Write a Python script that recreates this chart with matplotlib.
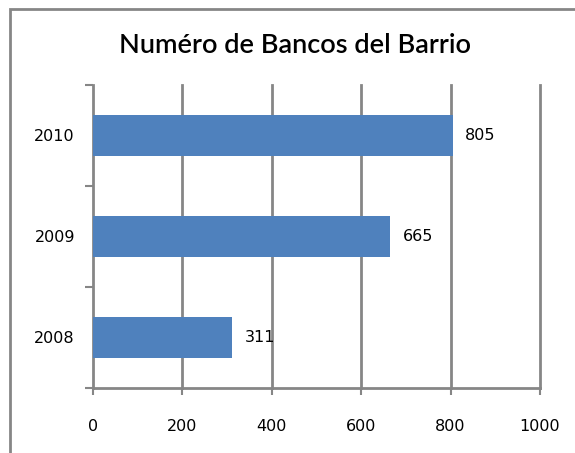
import matplotlib.pyplot as plt
from matplotlib.patches import Rectangle

years = ["2008", "2009", "2010"]
banks = [311, 665, 805]
x_ticks = [0, 200, 400, 600, 800, 1000]

grey = "#868686"
blue = "#4F81BD"

fig = plt.figure(figsize=(5.75, 4.53), dpi=100)
ax = fig.add_axes([0.1617, 0.1435, 0.7774, 0.6689])

pos = list(range(len(years)))
ax.barh(pos, banks, height=0.4, color=blue, zorder=3)
for y, v in zip(pos, banks):
    ax.annotate(str(v), (v, y), xytext=(9, 0), textcoords="offset points",
                va="center", ha="left", fontsize=11.5, family="DejaVu Sans")

ax.set_xlim(0, 1000)
ax.set_ylim(-0.5, 2.5)
ax.set_xticks(x_ticks)
ax.set_xticklabels([str(t) for t in x_ticks], fontsize=11.5)
ax.tick_params(axis="x", length=5, width=1.5, color=grey, pad=17)

ax.set_yticks([-0.5, 0.5, 1.5, 2.5])
ax.set_yticklabels([])
ax.set_yticks(pos, minor=True)
ax.set_yticklabels(years, minor=True, fontsize=11.5)
ax.tick_params(axis="y", which="major", length=6, width=1.5, color=grey)
ax.tick_params(axis="y", which="minor", length=0, pad=13)

for t in x_ticks[1:]:
    ax.axvline(t, color=grey, linewidth=2, zorder=0, clip_on=False)
for s in ["top", "right"]:
    ax.spines[s].set_visible(False)
for s in ["left", "bottom"]:
    ax.spines[s].set_color(grey)
    ax.spines[s].set_linewidth(2)

fig.text(0.513, 0.9, "Numéro de Bancos del Barrio", ha="center", va="center",
         fontsize=19.5, family="Lato", weight="semibold")

fig.patches.append(Rectangle((9.5 / 575, -0.05), 1.0, 1 - 9.5 / 453 + 0.05,
                             transform=fig.transFigure, fill=False,
                             edgecolor=grey, linewidth=2))

fig.savefig("out.png", dpi=100)
